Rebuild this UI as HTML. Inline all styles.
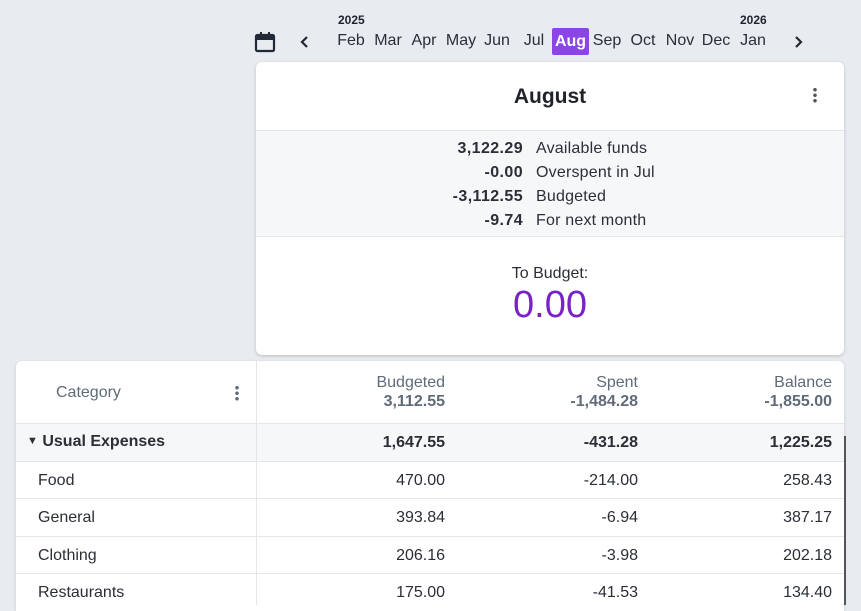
<!DOCTYPE html>
<html><head><style>
*{margin:0;padding:0;box-sizing:border-box}
body{width:861px;height:605px;background:#e8ebef;font-family:"Liberation Sans",sans-serif;position:relative;overflow:hidden;color:#1f2329}
.a{position:absolute;white-space:nowrap}
.m{position:absolute;top:32px;font-size:16px;color:#2a2f36;transform:translateX(-50%)}
.r{text-align:right}
.row{position:absolute;left:16px;width:828px;height:38px;border-top:1px solid #e3e6ea;background:#fff}
.row span{position:absolute;top:10px;font-size:16px;color:#2a2f36}
</style></head><body>
<div class="a" style="left:338px;top:13px;font-size:12px;font-weight:bold">2025</div>
<div class="a" style="left:740px;top:13px;font-size:12px;font-weight:bold">2026</div>
<svg class="a" style="left:254px;top:31px" width="22" height="22" viewBox="0 0 22 22"><rect x="2" y="4" width="18" height="16" rx="1.5" fill="none" stroke="#1f2937" stroke-width="2.2"/><rect x="2" y="4" width="18" height="5" fill="#1f2937"/><rect x="6" y="1" width="2" height="5" fill="#1f2937"/><rect x="14" y="1" width="2" height="5" fill="#1f2937"/></svg>
<svg class="a" style="left:300px;top:35px" width="10" height="14"><path d="M7 2 L2 7 L7 12" fill="none" stroke="#1f2937" stroke-width="2.2"/></svg>
<svg class="a" style="left:793px;top:35px" width="10" height="14"><path d="M3 2 L8 7 L3 12" fill="none" stroke="#1f2937" stroke-width="2.2"/></svg>
<div class="m" style="left:351px">Feb</div><div class="m" style="left:388px">Mar</div><div class="m" style="left:424px">Apr</div><div class="m" style="left:461px">May</div><div class="m" style="left:497px">Jun</div><div class="m" style="left:534px">Jul</div>
<div class="a" style="left:552px;top:28px;width:37px;height:27px;background:#8b45e6;border-radius:2px;color:#fff;font-weight:bold;font-size:16px;text-align:center;line-height:27px">Aug</div>
<div class="m" style="left:607px">Sep</div><div class="m" style="left:643px">Oct</div><div class="m" style="left:680px">Nov</div><div class="m" style="left:716px">Dec</div><div class="m" style="left:753px">Jan</div>
<div class="a" style="left:256px;top:62px;width:588px;height:293px;background:#fff;border-radius:6px;box-shadow:0 1px 3px rgba(0,0,0,.2);overflow:hidden">
 <div class="a" style="left:0;width:588px;top:23px;text-align:center;font-size:21px;font-weight:bold">August</div>
 <div class="a" style="left:557px;top:25px;width:4px;height:16px;background:radial-gradient(circle,#555 1.6px,transparent 2px) 0 0/4px 5.5px"></div>
 <div class="a" style="left:0;top:68px;width:588px;height:107px;background:#f6f7f9;border-top:1px solid #e3e6ea;border-bottom:1px solid #e3e6ea"></div>
 <div class="a r" style="left:100px;width:167px;top:75px;font-size:16px;font-weight:bold;line-height:24px;color:#2a2f36;letter-spacing:.4px">3,122.29<br>-0.00<br>-3,112.55<br>-9.74</div>
 <div class="a" style="left:280px;top:75px;font-size:16px;line-height:24px;color:#2a2f36;letter-spacing:.2px">Available funds<br>Overspent in Jul<br>Budgeted<br>For next month</div>
 <div class="a" style="left:0;width:588px;top:203px;text-align:center;font-size:16px;color:#2a2f36">To Budget:</div>
 <div class="a" style="left:0;width:588px;top:222px;text-align:center;font-size:38px;color:#7a22c8">0.00</div>
</div>
<div class="a" style="left:16px;top:361px;width:828px;height:250px;background:#fff;border-radius:6px 6px 0 0;box-shadow:0 1px 3px rgba(0,0,0,.15)"></div>
<div class="a" style="left:56px;top:384px;font-size:16px;color:#5f6b78">Category</div>
<div class="a" style="left:235px;top:385px;width:4px;height:16px;background:radial-gradient(circle,#5f6b78 1.6px,transparent 2px) 0 0/4px 5.5px"></div>
<div class="a r" style="left:300px;width:145px;top:373px;font-size:16px;line-height:19px;color:#5f6b78">Budgeted<br><b>3,112.55</b></div>
<div class="a r" style="left:490px;width:148px;top:373px;font-size:16px;line-height:19px;color:#5f6b78">Spent<br><b>-1,484.28</b></div>
<div class="a r" style="left:690px;width:142px;top:373px;font-size:16px;line-height:19px;color:#5f6b78">Balance<br><b>-1,855.00</b></div>
<div class="row" style="top:423px;background:#f6f7f9"><span style="left:11px;top:9px;font-weight:bold;font-size:16px"><span style="position:static;font-size:11px;vertical-align:2px">▼</span> Usual Expenses</span><span style="right:399px;font-weight:bold">1,647.55</span><span style="right:206px;font-weight:bold">-431.28</span><span style="right:12px;font-weight:bold">1,225.25</span></div>
<div class="row" style="top:461px"><span style="left:22px">Food</span><span style="right:399px">470.00</span><span style="right:206px">-214.00</span><span style="right:12px">258.43</span></div>
<div class="row" style="top:498px"><span style="left:22px">General</span><span style="right:399px">393.84</span><span style="right:206px">-6.94</span><span style="right:12px">387.17</span></div>
<div class="row" style="top:536px"><span style="left:22px">Clothing</span><span style="right:399px">206.16</span><span style="right:206px">-3.98</span><span style="right:12px">202.18</span></div>
<div class="row" style="top:573px"><span style="left:22px">Restaurants</span><span style="right:399px">175.00</span><span style="right:206px">-41.53</span><span style="right:12px">134.40</span></div>
<div class="a" style="left:256px;top:361px;width:1px;height:244px;background:#e3e6ea"></div>
<div class="a" style="left:16px;top:423px;width:828px;height:1px;background:#e3e6ea"></div>
<div class="a" style="left:844px;top:436px;width:2px;height:169px;background:#555"></div>
</body></html>
